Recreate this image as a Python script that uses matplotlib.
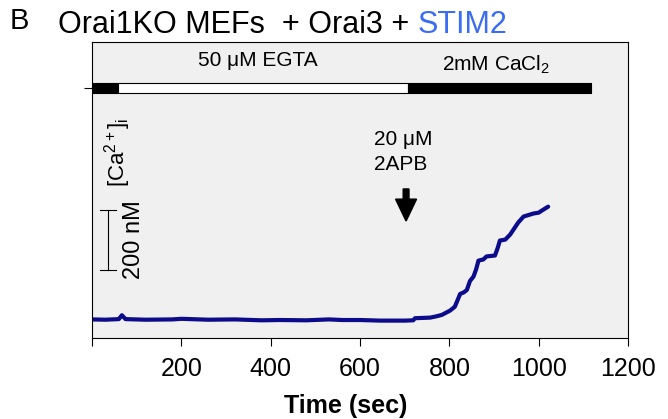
import matplotlib
matplotlib.use("Agg")
import matplotlib.pyplot as plt

plt.rcParams['font.family'] = ['Liberation Sans', 'DejaVu Sans']
plt.rcParams['mathtext.fontset'] = 'custom'
plt.rcParams['mathtext.rm'] = 'Liberation Sans'
plt.rcParams['mathtext.it'] = 'Liberation Sans:italic'

# trace (sec, nM)
time = [0, 30, 60, 67, 75, 120, 180, 200, 260, 320, 360, 380, 420, 480, 530, 560, 600, 645,
        700, 719, 723, 757, 770, 783, 801, 812, 816, 824, 832, 839, 846, 854, 860, 865,
        876, 883, 902, 908, 913, 925, 936, 945, 954, 966, 988, 1000, 1007, 1021]
ca = [62, 61, 63, 76, 63, 61, 62, 64, 61, 62, 60, 59, 60, 59, 62, 60, 60, 58,
      58, 59, 66, 68, 72, 77, 91, 104, 118, 147, 152, 160, 190, 205, 230, 258,
      262, 272, 275, 300, 325, 328, 345, 365, 385, 405, 415, 418, 425, 438]

# solution bar segments (start, length, color)
bar_start = [0, 58, 708]
bar_len = [58, 650, 410]
bar_color = ['black', 'white', 'black']

xticks = [0, 200, 400, 600, 800, 1000, 1200]
xlabels = ['', '200', '400', '600', '800', '1000', '1200']

fig = plt.figure(figsize=(6.68, 4.19), dpi=100)
ax = fig.add_axes([0.1377, 0.1933, 0.8026, 0.7065])
ax.set_facecolor('#f0f0f0')

ax.plot(time, ca, color='#0b0b8c', lw=3, solid_capstyle='round', solid_joinstyle='round')

ax.broken_barh(list(zip(bar_start, bar_len)), (817, 33), facecolors=bar_color,
               edgecolor='black', linewidth=0.8)

ax.set_xlim(0, 1200)
ax.set_ylim(0, 987)
ax.set_xticks(xticks)
ax.set_xticklabels(xlabels, fontsize=18)
ax.set_yticks([833])
ax.set_yticklabels([''])
ax.tick_params(axis='both', direction='out', length=6, width=0.8)
ax.tick_params(axis='x', pad=8)
ax.set_xlabel('Time (sec)', fontsize=18, fontweight='bold')
ax.xaxis.set_label_coords(0.474, -0.19)
for s in ax.spines.values():
    s.set_linewidth(0.8)

ax.text(372, 925, '50 μM EGTA', ha='center', va='center', fontsize=15)
ax.text(905, 912, '2mM CaCl$_2$', ha='center', va='center', fontsize=15)
ax.text(58, 618, '[Ca$^{2+}$]$_\\mathrm{i}$', rotation=90, ha='center', va='center',
        fontsize=16)
ax.text(632, 695, '20 μM\n2APB', ha='left', va='top', fontsize=15, linespacing=1.4)
ax.arrow(703, 497, 0, -107, width=13, head_width=47, head_length=73,
         length_includes_head=True, color='black')

# 200 nM scale bar
ax.plot([36, 36], [227, 427], color='black', lw=0.8)
ax.plot([18, 54], [227, 227], color='black', lw=0.8)
ax.plot([18, 54], [427, 427], color='black', lw=0.8)
ax.text(94, 327, '200 nM', rotation=90, ha='center', va='center', fontsize=17)

fig.text(10 / 668, 1 - 21 / 419, 'B', fontsize=21, va='center', ha='left')
t1 = fig.text(58 / 668, 1 - 25 / 419, 'Orai1KO MEFs  + Orai3 + ', fontsize=22,
              va='center', ha='left')
fig.canvas.draw()
bb = t1.get_window_extent()
fig.text(bb.x1 / fig.bbox.width, 1 - 25 / 419, 'STIM2', fontsize=22, color='#3a6cf4',
         va='center', ha='left')

plt.savefig('out.png', dpi=100)
